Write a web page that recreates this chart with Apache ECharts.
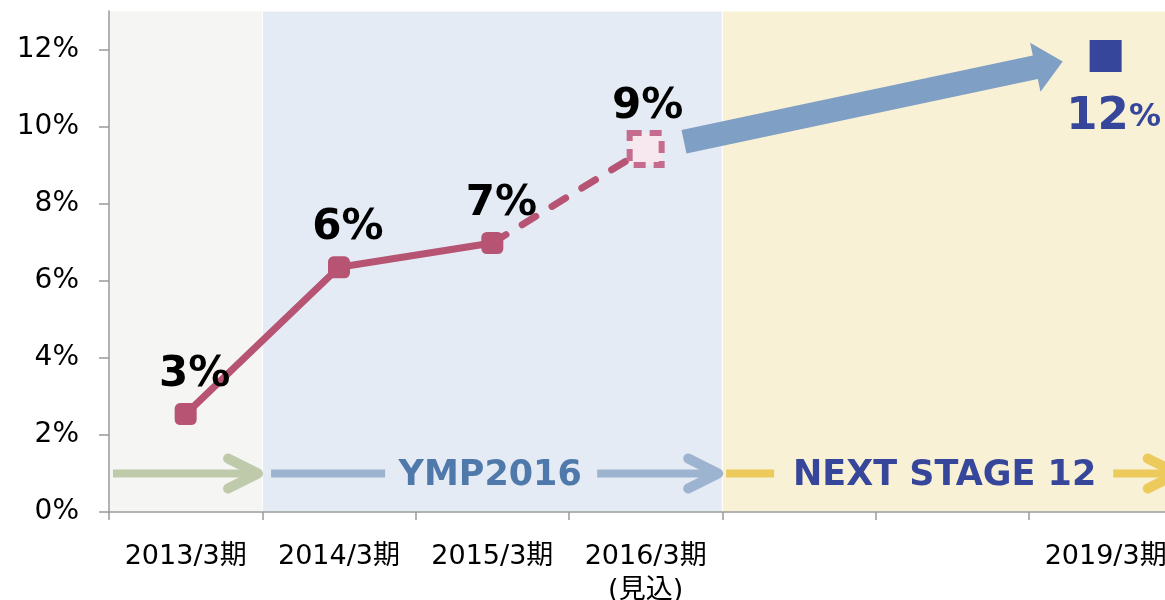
<!DOCTYPE html>
<html>
<head>
<meta charset="utf-8">
<script src="https://cdn.jsdelivr.net/npm/echarts@6/dist/echarts.min.js"></script>
<style>
  html, body { margin: 0; padding: 0; background: #fff; }
  #chart { width: 1165px; height: 600px; }
</style>
</head>
<body>
<div id="chart"></div>
<script>
// data
const categories = ['2013/3期', '2014/3期', '2015/3期', '2016/3期\n(見込)', '', '', '2019/3期'];
const actualValues = [2.54, 6.35, 6.98, '-', '-', '-', '-'];
const forecastValues = ['-', '-', 6.98, 9.42, '-', '-', '-'];
const targetValues = ['-', '-', '-', '-', '-', '-', 11.83];
const pointLabels = ['3%', '6%', '7%', '9%'];
const targetLabel = '12';
const yTicks = [0, 2, 4, 6, 8, 10, 12];

// phases, on a hidden value axis where category i sits at i
const phaseBands = [[-0.5, 0.5], [0.5, 3.5], [3.5, 6.5]];
const phaseNames = ['YMP2016', 'NEXT STAGE 12'];
const phaseNamePos = [[1.986, 1], [4.95, 1]];
// [from, to, level, hasHead, phase]
const phaseSegments = [
  [-0.474, 0.472, 1, 1, 0],
  [0.557, 1.314, 1, 0, 1],
  [2.684, 3.473, 1, 1, 1],
  [3.525, 3.851, 1, 0, 2],
  [6.05, 6.47, 1, 1, 2]
];
// big arrow: [x0, y0, x1, y1]
const growthArrow = [[3.25, 9.61, 5.72, 11.69]];

const font = '"DejaVu Sans", "Noto Sans CJK JP", sans-serif';
const bandColors = ['#f5f5f3', '#e4ebf4', '#f9f1d5'];
const arrowColors = ['#bfcaab', '#9db4d1', '#ecca5c'];
const nameColors = ['#5079ab', '#36479b'];
const lineColor = '#b75473';

function renderGrowthArrow(params, api) {
  const a = api.coord([api.value(0), api.value(1)]);
  const b = api.coord([api.value(2), api.value(3)]);
  const dx = b[0] - a[0], dy = b[1] - a[1];
  const len = Math.hypot(dx, dy);
  const ux = dx / len, uy = dy / len, nx = -uy, ny = ux;
  const sw = 12, hw = 25, hl = 28;
  const bx = b[0] - ux * hl, by = b[1] - uy * hl;
  return {
    type: 'polygon',
    shape: {
      points: [
        [a[0] + nx * sw, a[1] + ny * sw],
        [bx + nx * sw, by + ny * sw],
        [bx + nx * hw, by + ny * hw],
        b,
        [bx - nx * hw, by - ny * hw],
        [bx - nx * sw, by - ny * sw],
        [a[0] - nx * sw, a[1] - ny * sw]
      ]
    },
    style: { fill: '#809fc5' }
  };
}

function renderPhaseArrow(params, api) {
  const a = api.coord([api.value(0), api.value(2)]);
  const b = api.coord([api.value(1), api.value(2)]);
  const color = arrowColors[api.value(4)];
  const children = [{
    type: 'line',
    shape: { x1: a[0], y1: a[1], x2: b[0] - 2, y2: b[1] },
    style: { stroke: color, lineWidth: 8 }
  }];
  if (api.value(3)) {
    children.push({
      type: 'polyline',
      shape: { points: [[b[0] - 30, b[1] - 15], [b[0], b[1]], [b[0] - 30, b[1] + 15]] },
      style: { stroke: color, lineWidth: 10, lineCap: 'round', lineJoin: 'round', fill: null }
    });
  }
  return { type: 'group', children: children };
}

function renderPhaseName(params, api) {
  const p = api.coord([api.value(0), api.value(1)]);
  const i = params.dataIndex;
  return {
    type: 'text',
    x: p[0],
    y: p[1] + 2,
    style: {
      text: phaseNames[i],
      fill: nameColors[i],
      font: 'bold 35px ' + font,
      align: 'center',
      verticalAlign: 'middle'
    }
  };
}

const chart = echarts.init(document.getElementById('chart'));
chart.setOption({
  animation: false,
  grid: { left: 109, top: 11, width: 1073.3, bottom: 88, containLabel: false, outerBoundsMode: 'none' },
  xAxis: [{
    type: 'category',
    data: categories,
    boundaryGap: true,
    z: 5,
    axisLine: { lineStyle: { color: '#9a9a9a', width: 1.5 } },
    axisTick: { show: true, length: 8, lineStyle: { color: '#9a9a9a', width: 1.5 } },
    axisLabel: {
      interval: 0,
      color: '#000',
      fontSize: 27,
      fontFamily: font,
      lineHeight: 34,
      margin: 28
    }
  }, {
    type: 'value',
    min: -0.5,
    max: 6.5,
    show: false
  }],
  yAxis: {
    type: 'value',
    min: 0,
    max: 13,
    interval: 2,
    z: 5,
    splitLine: { show: false },
    axisLine: { show: true, onZero: false, lineStyle: { color: '#9a9a9a', width: 1.5 } },
    axisTick: { show: true, length: 10, customValues: yTicks, lineStyle: { color: '#9a9a9a', width: 1.5 } },
    axisLabel: {
      customValues: yTicks,
      formatter: '{value}%',
      color: '#000',
      fontSize: 28,
      fontFamily: font,
      margin: 30
    }
  },
  series: [{
    // phase backgrounds
    type: 'line',
    xAxisIndex: 1,
    data: [[-0.5, 0]],
    symbol: 'none',
    silent: true,
    lineStyle: { opacity: 0 },
    markArea: {
      silent: true,
      itemStyle: { borderColor: '#fff', borderWidth: 1 },
      data: phaseBands.map((b, i) => [
        { xAxis: b[0], itemStyle: { color: bandColors[i] } },
        { xAxis: b[1] }
      ])
    }
  }, {
    type: 'custom',
    xAxisIndex: 1,
    renderItem: renderPhaseArrow,
    data: phaseSegments,
    silent: true,
    z: 3
  }, {
    type: 'custom',
    xAxisIndex: 1,
    renderItem: renderPhaseName,
    data: phaseNamePos,
    silent: true,
    z: 4
  }, {
    type: 'custom',
    xAxisIndex: 1,
    renderItem: renderGrowthArrow,
    data: growthArrow,
    silent: true,
    z: 4
  }, {
    type: 'line',
    data: forecastValues.map((v, i) => {
      if (i === 3) {
        return {
          value: v,
          symbol: 'rect',
          symbolSize: 32,
          itemStyle: { color: '#f6e8ee', borderColor: '#c56b8d', borderWidth: 6, borderType: [12, 8] },
          label: { show: true, formatter: pointLabels[3], offset: [2, 0], distance: 2 }
        };
      }
      return { value: v, symbol: 'none' };
    }),
    lineStyle: { color: lineColor, width: 7, type: [16, 19], cap: 'round' },
    label: {
      position: 'top',
      color: '#000',
      fontSize: 42,
      fontWeight: 'bold',
      fontFamily: font
    },
    z: 6
  }, {
    type: 'line',
    data: actualValues,
    symbol: 'roundRect',
    symbolSize: 22,
    itemStyle: { color: lineColor },
    lineStyle: { color: lineColor, width: 7 },
    label: {
      show: true,
      formatter: p => pointLabels[p.dataIndex],
      position: 'top',
      distance: 7,
      offset: [9, 0],
      color: '#000',
      fontSize: 42,
      fontWeight: 'bold',
      fontFamily: font
    },
    z: 7
  }, {
    type: 'scatter',
    data: targetValues,
    symbol: 'rect',
    symbolSize: 32,
    itemStyle: { color: '#36479b', opacity: 1 },
    label: {
      show: true,
      position: 'bottom',
      distance: 23,
      offset: [8, 0],
      formatter: '{n|' + targetLabel + '}{p|%}',
      rich: {
        n: { color: '#36479b', fontSize: 45, fontWeight: 'bold', fontFamily: font },
        p: { color: '#36479b', fontSize: 32, fontWeight: 'bold', fontFamily: font }
      }
    },
    z: 7
  }]
});
</script>
</body>
</html>
